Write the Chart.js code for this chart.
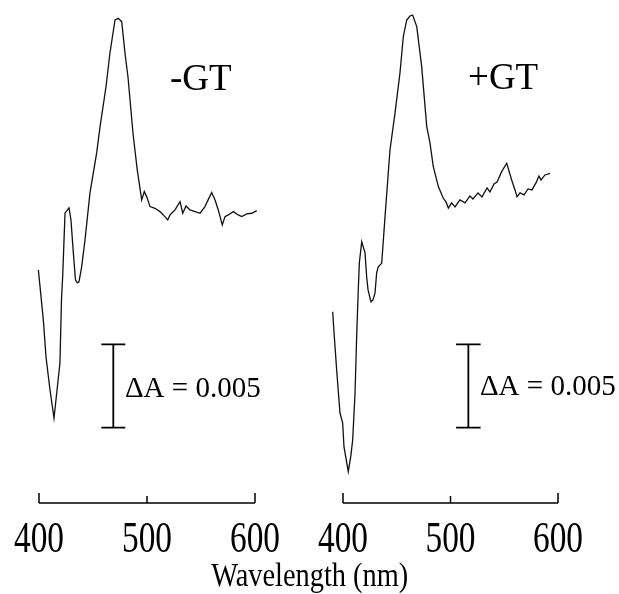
<!DOCTYPE html>
<html><head><meta charset="utf-8">
<script src="https://cdn.jsdelivr.net/npm/chart.js@4.4.0/dist/chart.umd.min.js"></script>
<style>
html,body{margin:0;padding:0;background:#fff;width:619px;height:594px;overflow:hidden;}
.panel{position:absolute;top:0;width:310px;height:560px;}
#xtitle{position:absolute;left:0;width:619px;top:559px;text-align:center;font-family:'Liberation Serif','Times New Roman',serif;font-size:33px;line-height:33px;color:#000;white-space:nowrap;transform:scaleX(0.86);transform-origin:311px 0;}
</style></head><body>
<div class="panel" style="left:0"><canvas id="c1" width="310" height="560"></canvas></div>
<div class="panel" style="left:309px"><canvas id="c2" width="310" height="560"></canvas></div>
<div id="xtitle">Wavelength (nm)</div>
<script>
// ---- data (ΔA in units of 0.001) ----
const tickValues = [400, 500, 600];
const panelLabels = ['-GT', '+GT'];
const scaleBarValue = 5;            // 0.005 ΔA
const scaleBarLabel = 'ΔA = 0.005';
const xTitle = 'Wavelength (nm)';

const leftWavelength = [399.4,404.0,406.5,410.2,413.9,416.4,419.4,420.8,421.9,424.1,425.5,427.8,429.6,431.8,433.8,435.5,437.0,439.5,442.6,447.2,453.4,456.5,462.0,465.7,470.4,473.4,476.6,479.6,482.4,487.0,491.0,495.1,497.5,499.7,502.8,507.4,512.0,515.1,519.2,521.3,525.9,530.6,533.1,536.1,539.8,544.4,549.1,553.7,555.8,559.9,563.0,566.0,569.7,572.2,575.3,579.9,584.5,587.7,592.3,597.0,601.6];
const leftDeltaA = [9.47,6.47,4.24,2.26,0.58,2.08,3.88,7.67,9.05,12.89,13.0,13.19,12.46,10.49,8.86,8.69,8.75,9.65,11.27,14.09,16.49,18.05,20.45,22.49,24.47,24.57,24.37,22.49,21.05,17.69,15.46,13.67,14.17,13.87,13.27,13.17,12.97,12.77,12.47,12.77,13.07,13.57,12.87,13.31,13.07,12.97,12.87,13.27,13.57,14.11,13.67,13.07,12.17,12.67,12.77,12.97,12.77,12.67,12.83,12.87,13.03];

const rightWavelength = [390.4,391.6,394.1,397.2,399.7,400.9,404.9,407.2,409.0,411.2,412.7,414.2,415.2,417.4,420.5,422.0,423.3,426.0,427.9,429.8,431.3,432.8,436.0,439.1,443.7,448.4,453.0,456.1,459.3,462.3,464.8,468.6,473.2,477.9,480.9,484.0,488.7,493.3,495.8,498.0,501.1,504.2,508.8,513.5,518.1,520.9,525.6,529.3,534.0,536.7,540.5,543.3,547.6,552.3,556.9,560.0,561.9,564.7,568.4,572.1,575.8,579.5,582.3,584.2,587.9,592.6];
const rightDeltaA = [6.96,5.76,3.46,0.88,0.28,-1.14,-2.64,-1.74,-0.74,2.08,5.46,8.27,9.89,11.16,10.49,9.06,8.27,7.56,7.67,8.09,9.29,9.66,9.87,12.67,16.67,18.89,21.29,23.47,24.47,24.71,24.77,24.07,21.67,18.07,17.09,15.67,14.47,13.77,13.55,13.18,13.49,13.25,13.67,13.49,13.91,13.73,14.09,13.85,14.39,14.15,14.63,14.75,15.37,15.87,14.87,14.27,13.85,14.09,13.97,14.33,14.27,14.69,15.11,14.87,15.17,15.27];

// ---- layout ----
const SERIF = '"Liberation Serif","Times New Roman",serif';
const Y_MIN = -4.52, Y_MAX = 25.67;
const TICK_LABEL_MAX_WIDTH = 50;   // tick labels in the figure are condensed

const framePlugin = {
  id: 'frame',
  beforeDraw(chart) {
    const xs = chart.scales.x;
    xs.getLabelItems(chart.chartArea).forEach(it => { it.options.maxWidth = TICK_LABEL_MAX_WIDTH; });
  },
  afterDraw(chart, args, opts) {
    const ctx = chart.ctx, xs = chart.scales.x, ys = chart.scales.y;
    const yb = chart.chartArea.bottom;
    ctx.save();
    ctx.strokeStyle = '#000';
    ctx.lineWidth = 1.5;
    ctx.beginPath();
    ctx.moveTo(xs.getPixelForValue(tickValues[0]), yb);
    ctx.lineTo(xs.getPixelForValue(tickValues[tickValues.length - 1]), yb);
    tickValues.forEach((t, i) => {
      const px = xs.getPixelForValue(t);
      const len = (i === 0 || i === tickValues.length - 1) ? 10 : 7;
      ctx.moveTo(px, yb);
      ctx.lineTo(px, yb - len);
    });
    ctx.stroke();
    ctx.fillStyle = '#000';
    ctx.textBaseline = 'alphabetic';
    ctx.textAlign = 'left';
    opts.texts.forEach(t => {
      ctx.font = t.size + 'px ' + SERIF;
      ctx.fillText(t.text, xs.getPixelForValue(t.x), ys.getPixelForValue(t.y));
    });
    ctx.restore();
  }
};

function scaleBarData(cx, half) {
  return [
    {x: cx - half, y: scaleBarValue}, {x: cx + half, y: scaleBarValue}, {x: cx, y: null},
    {x: cx, y: scaleBarValue}, {x: cx, y: 0}, {x: cx + 0.01, y: null},
    {x: cx - half, y: 0}, {x: cx + half, y: 0}
  ];
}

function makeChart(id, wl, vals, xMin, pad, bar, label, labelPos, barLabelPos) {
  const pts = wl.map((w, i) => ({x: w, y: vals[i]}));
  return new Chart(document.getElementById(id), {
    type: 'line',
    data: {
      datasets: [
        {data: pts, borderColor: '#111', borderWidth: 1.3, pointRadius: 0, tension: 0, clip: false},
        {data: scaleBarData(bar.x, bar.half), borderColor: '#000', borderWidth: 1.8, pointRadius: 0, spanGaps: false, clip: false}
      ]
    },
    options: {
      responsive: false, animation: false, devicePixelRatio: 1,
      layout: {padding: {left: pad.left, right: pad.right, top: 0, bottom: 0}},
      plugins: {
        legend: {display: false}, tooltip: {enabled: false},
        frame: {texts: [
          {text: label, x: labelPos.x, y: labelPos.y, size: 37},
          {text: scaleBarLabel, x: barLabelPos.x, y: barLabelPos.y, size: 29}
        ]}
      },
      scales: {
        x: {
          type: 'linear', min: xMin, max: 600,
          afterBuildTicks(s) { s.ticks = tickValues.map(v => ({value: v})); },
          afterFit(s) { s.height = 57; s.paddingLeft = 0; s.paddingRight = 0; },
          grid: {display: false, drawTicks: false},
          border: {display: false},
          ticks: {color: '#000', padding: 11, maxRotation: 0, autoSkip: false,
                  font: {family: SERIF, size: 44}, callback: v => String(v)}
        },
        y: {display: false, min: Y_MIN, max: Y_MAX}
      }
    },
    plugins: [framePlugin]
  });
}

makeChart('c1', leftWavelength, leftDeltaA, 400, {left: 39, right: 55},
  {x: 468.8, half: 11.1}, panelLabels[0], {x: 521.3, y: 20.27}, {x: 479.6, y: 1.84});
makeChart('c2', rightWavelength, rightDeltaA, 390, {left: 23.25, right: 61},
  {x: 516.6, half: 11.4}, panelLabels[1], {x: 516.3, y: 20.33}, {x: 527.4, y: 1.96});
document.getElementById('xtitle').textContent = xTitle;
</script>
</body></html>
